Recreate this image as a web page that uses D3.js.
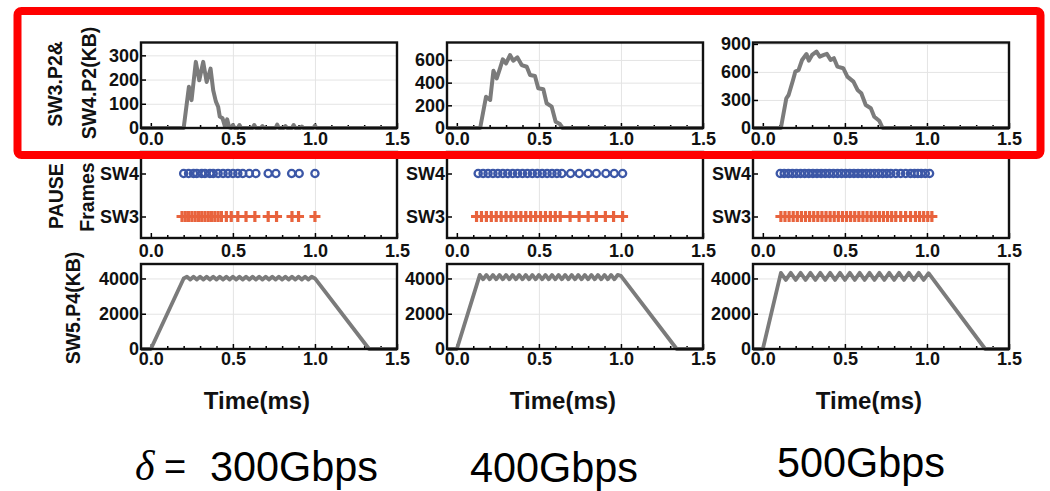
<!DOCTYPE html>
<html><head><meta charset="utf-8">
<script src="https://cdn.jsdelivr.net/npm/d3@7"></script>
<style>html,body{margin:0;padding:0;background:#fff;}svg{display:block;}</style>
</head><body>
<svg id="c" width="1050" height="491"></svg>
<script>
// ---------------- data ----------------
const rates = ["300Gbps", "400Gbps", "500Gbps"];
const xTickValues = [0.0, 0.5, 1.0, 1.5];
const xMinorTicks = [0.1, 0.2, 0.3, 0.4, 0.6, 0.7, 0.8, 0.9, 1.1, 1.2, 1.3, 1.4];
const queueTicks300 = [0, 100, 200, 300];
const queueTicks400 = [0, 200, 400, 600];
const queueTicks500 = [0, 300, 600, 900];
const queueMax = [353, 754, 915];
const pauseLabels = ["SW4", "SW3"];
const sw5Ticks = [0, 2000, 4000];
const sw5Max = 4820;

// SW3.P2 & SW4.P2 queue (KB)
const q300Time = [-0.06, 0.20, 0.232, 0.248, 0.274, 0.295, 0.319, 0.34, 0.364, 0.38, 0.396, 0.41, 0.42, 0.437, 0.451, 0.465, 0.477, 0.49, 0.50, 0.51, 0.53, 0.54, 0.55, 0.62, 0.63, 0.64, 0.67, 0.68, 0.69, 0.76, 0.77, 0.78, 0.81, 0.82, 0.83, 0.86, 0.87, 0.88, 0.91, 0.92, 0.93, 0.99, 1.0, 1.01, 1.5];
const q300Value = [0, 0, 170, 115, 273, 197, 273, 190, 245, 156, 110, 88, 47, 40, 8, 36, 3, 0, 12, 0, 0, 12, 0, 0, 12, 0, 0, 8, 0, 0, 14, 0, 0, 8, 0, 0, 12, 0, 0, 6, 0, 0, 10, 0, 0];
const q400Time = [-0.06, 0.142, 0.178, 0.203, 0.223, 0.243, 0.263, 0.28, 0.30, 0.324, 0.344, 0.369, 0.395, 0.426, 0.446, 0.476, 0.496, 0.527, 0.547, 0.578, 0.602, 0.628, 0.645, 1.5];
const q400Value = [0, 0, 276, 247, 505, 438, 526, 605, 570, 643, 593, 623, 555, 540, 467, 458, 350, 341, 218, 188, 56, 35, 0, 0];
const q500Time = [-0.06, 0.11, 0.143, 0.157, 0.184, 0.198, 0.218, 0.239, 0.266, 0.28, 0.30, 0.327, 0.347, 0.372, 0.39, 0.413, 0.433, 0.454, 0.49, 0.515, 0.552, 0.577, 0.60, 0.627, 0.658, 0.679, 0.709, 0.73, 1.5];
const q500Value = [0, 0, 318, 353, 514, 603, 621, 728, 792, 720, 782, 818, 764, 782, 793, 729, 747, 657, 640, 550, 496, 407, 372, 246, 211, 121, 78, 0, 0];

// PAUSE frame times (ms)
const sw4Pause300 = [0.20, 0.23, 0.26, 0.28, 0.31, 0.33, 0.36, 0.38, 0.41, 0.44, 0.47, 0.50, 0.53, 0.56, 0.60, 0.64, 0.715, 0.762, 0.858, 0.904, 1.0];
const sw3Pause300 = [0.19, 0.21, 0.23, 0.25, 0.27, 0.29, 0.31, 0.33, 0.35, 0.37, 0.39, 0.41, 0.43, 0.46, 0.49, 0.53, 0.58, 0.634, 0.715, 0.766, 0.86, 0.90, 1.0];
const sw4Pause400 = [0.13, 0.16, 0.19, 0.22, 0.25, 0.28, 0.31, 0.34, 0.37, 0.40, 0.43, 0.46, 0.49, 0.52, 0.55, 0.58, 0.61, 0.64, 0.693, 0.746, 0.80, 0.85, 0.908, 0.959, 1.01];
const sw3Pause400 = [0.12, 0.15, 0.18, 0.21, 0.24, 0.27, 0.30, 0.33, 0.36, 0.39, 0.42, 0.45, 0.48, 0.51, 0.54, 0.57, 0.60, 0.63, 0.69, 0.745, 0.80, 0.85, 0.905, 0.955, 1.01];
const sw4Pause500 = [0.106, 0.13, 0.155, 0.18, 0.205, 0.23, 0.255, 0.28, 0.305, 0.33, 0.355, 0.38, 0.405, 0.43, 0.455, 0.48, 0.505, 0.53, 0.555, 0.58, 0.605, 0.63, 0.655, 0.68, 0.705, 0.73, 0.755, 0.78, 0.81, 0.84, 0.87, 0.90, 0.924, 0.945, 0.965, 0.99, 1.016];
const sw3Pause500 = [0.11, 0.135, 0.16, 0.185, 0.21, 0.235, 0.26, 0.285, 0.31, 0.335, 0.36, 0.385, 0.41, 0.435, 0.46, 0.485, 0.51, 0.535, 0.56, 0.585, 0.61, 0.635, 0.66, 0.685, 0.71, 0.735, 0.76, 0.785, 0.81, 0.84, 0.87, 0.90, 0.93, 0.955, 0.98, 1.005, 1.03];

// SW5.P4 queue (KB)
const s300Time = [-0.06, 0.0, 0.20, 0.22, 0.24, 0.26, 0.28, 0.30, 0.32, 0.34, 0.36, 0.38, 0.40, 0.42, 0.44, 0.46, 0.48, 0.50, 0.52, 0.54, 0.56, 0.58, 0.60, 0.62, 0.64, 0.66, 0.68, 0.70, 0.72, 0.74, 0.76, 0.78, 0.80, 0.82, 0.84, 0.86, 0.88, 0.90, 0.92, 0.94, 0.96, 0.98, 1.00, 1.33, 1.5];
const s300Value = [0, 0, 4000, 4100, 3940, 4100, 3940, 4100, 3940, 4100, 3940, 4100, 3940, 4100, 3940, 4100, 3940, 4100, 3940, 4100, 3940, 4100, 3940, 4100, 3940, 4100, 3940, 4100, 3940, 4100, 3940, 4100, 3940, 4100, 3940, 4100, 3940, 4100, 3940, 4100, 3940, 4100, 4000, 0, 0];
const s400Time = [-0.06, 0.0, 0.14, 0.16, 0.18, 0.20, 0.22, 0.24, 0.26, 0.28, 0.30, 0.32, 0.34, 0.36, 0.38, 0.40, 0.42, 0.44, 0.46, 0.48, 0.50, 0.52, 0.54, 0.56, 0.58, 0.60, 0.62, 0.64, 0.66, 0.68, 0.70, 0.72, 0.74, 0.76, 0.78, 0.80, 0.82, 0.84, 0.86, 0.88, 0.90, 0.92, 0.94, 0.96, 0.98, 1.00, 1.34, 1.5];
const s400Value = [0, 0, 4200, 3950, 4200, 3950, 4200, 3950, 4200, 3950, 4200, 3950, 4200, 3950, 4200, 3950, 4200, 3950, 4200, 3950, 4200, 3950, 4200, 3950, 4200, 3950, 4200, 3950, 4200, 3950, 4200, 3950, 4200, 3950, 4200, 3950, 4200, 3950, 4200, 3950, 4200, 3950, 4200, 3950, 4200, 4150, 0, 0];
const s500Time = [-0.06, 0.0, 0.11, 0.14, 0.17, 0.20, 0.23, 0.26, 0.29, 0.32, 0.35, 0.38, 0.41, 0.44, 0.47, 0.50, 0.53, 0.56, 0.59, 0.62, 0.65, 0.68, 0.71, 0.74, 0.77, 0.80, 0.83, 0.86, 0.89, 0.92, 0.95, 0.98, 1.01, 1.355, 1.5];
const s500Value = [0, 0, 4320, 3920, 4320, 3920, 4320, 3920, 4320, 3920, 4320, 3920, 4320, 3920, 4320, 3920, 4320, 3920, 4320, 3920, 4320, 3920, 4320, 3920, 4320, 3920, 4320, 3920, 4320, 3920, 4320, 3920, 4300, 0, 0];

// ---------------- layout ----------------
const svg = d3.select("#c");
const panelLeft = [141, 447, 753];
const panelW = 256;
const rowTop = {q: [42.5, 128], p: [152, 238], s: [264, 349]};
const tickFont = "'Liberation Sans', Arial, sans-serif";
const lineColor = "#7b7b7b";
const tickSize = 18;

const queueSets = [
  {t: q300Time, v: q300Value, ticks: queueTicks300},
  {t: q400Time, v: q400Value, ticks: queueTicks400},
  {t: q500Time, v: q500Value, ticks: queueTicks500}
];
const pauseSets = [
  {sw4: sw4Pause300, sw3: sw3Pause300},
  {sw4: sw4Pause400, sw3: sw3Pause400},
  {sw4: sw4Pause500, sw3: sw3Pause500}
];
const sw5Sets = [
  {t: s300Time, v: s300Value},
  {t: s400Time, v: s400Value},
  {t: s500Time, v: s500Value}
];

function styleAxis(g, size) {
  g.select(".domain").remove();
  g.selectAll(".tick line").attr("stroke", "#000").attr("stroke-width", 1.5);
  g.selectAll(".tick text").attr("fill", "#111").attr("font-family", tickFont)
    .attr("font-weight", "bold").attr("font-size", size);
}

function panel(i, row, yScale, yGrid, xPad) {
  const left = panelLeft[i];
  const [top, bottom] = rowTop[row];
  const x = d3.scaleLinear().domain([-0.06, 1.5]).range([left, left + panelW]);
  const g = svg.append("g");
  g.append("g").attr("transform", `translate(0,${bottom})`)
    .call(d3.axisBottom(x).tickValues([0.5, 1.0]).tickSize(-(bottom - top)).tickFormat(""))
    .call(a => { a.select(".domain").remove(); a.selectAll("line").attr("stroke", "#e4e4e4").attr("stroke-width", 1); });
  if (yScale) {
    g.append("g").attr("transform", `translate(${left},0)`)
      .call(d3.axisLeft(yScale).tickValues(yGrid).tickSize(-panelW).tickFormat(""))
      .call(a => { a.select(".domain").remove(); a.selectAll("line").attr("stroke", "#e4e4e4").attr("stroke-width", 1); });
  }
  const gx = g.append("g").attr("transform", `translate(0,${bottom})`)
    .call(d3.axisBottom(x).tickValues(xTickValues).tickFormat(d3.format(".1f")).tickSize(-5).tickPadding(xPad));
  styleAxis(gx, tickSize);
  const gm = g.append("g").attr("transform", `translate(0,${bottom})`)
    .call(d3.axisBottom(x).tickValues(xMinorTicks).tickFormat("").tickSize(-3));
  gm.select(".domain").remove();
  gm.selectAll("line").attr("stroke", "#000").attr("stroke-width", 1.5);
  return {x, g, left, top, bottom};
}

function frame(p) {
  p.g.append("rect").attr("x", p.left).attr("y", p.top).attr("width", panelW).attr("height", p.bottom - p.top)
    .attr("fill", "none").attr("stroke", "#111").attr("stroke-width", 2.4);
}

for (let i = 0; i < 3; i++) {
  // ---- top row: SW3.P2 & SW4.P2 ----
  const qs = queueSets[i];
  const yq = d3.scaleLinear().domain([0, queueMax[i]]).range([rowTop.q[1], rowTop.q[0]]);
  const pq = panel(i, "q", yq, qs.ticks.slice(1), 4);
  const gy = pq.g.append("g").attr("transform", `translate(${pq.left},0)`)
    .call(d3.axisLeft(yq).tickValues(qs.ticks).tickFormat(d3.format("d")).tickSize(-5).tickPadding(2));
  styleAxis(gy, tickSize);
  const qData = qs.t.map((t, k) => [t, qs.v[k]]);
  pq.g.append("path").datum(qData)
    .attr("d", d3.line().x(d => pq.x(d[0])).y(d => yq(d[1])))
    .attr("fill", "none").attr("stroke", lineColor).attr("stroke-width", 4).attr("stroke-linejoin", "round");
  frame(pq);

  // ---- middle row: PAUSE frames ----
  const yp = d3.scalePoint().domain(pauseLabels).range([rowTop.p[0], rowTop.p[1]]).padding(0.5);
  const pp = panel(i, "p", null, null, 6);
  const gyp = pp.g.append("g").attr("transform", `translate(${pp.left},0)`)
    .call(d3.axisLeft(yp).tickSize(-5).tickPadding(2));
  styleAxis(gyp, tickSize);
  const ps = pauseSets[i];
  pp.g.append("g").selectAll("path").data(ps.sw3).join("path")
    .attr("transform", d => `translate(${pp.x(d)},${yp("SW3")})`)
    .attr("d", "M-5.5,0H5.5M0,-5.5V5.5")
    .attr("stroke", "#e8633d").attr("stroke-width", 3.2).attr("fill", "none");
  pp.g.append("g").selectAll("circle").data(ps.sw4).join("circle")
    .attr("cx", d => pp.x(d)).attr("cy", yp("SW4")).attr("r", 3.6)
    .attr("fill", "none").attr("stroke", "#3c57a7").attr("stroke-width", 2.3);
  frame(pp);

  // ---- bottom row: SW5.P4 ----
  const ys = d3.scaleLinear().domain([0, sw5Max]).range([rowTop.s[1], rowTop.s[0]]);
  const pss = panel(i, "s", ys, [2000, 4000], 3);
  const gys = pss.g.append("g").attr("transform", `translate(${pss.left},0)`)
    .call(d3.axisLeft(ys).tickValues(sw5Ticks).tickFormat(d3.format("d")).tickSize(-5).tickPadding(2));
  styleAxis(gys, tickSize);
  const ss = sw5Sets[i];
  const sData = ss.t.map((t, k) => [t, ss.v[k]]);
  pss.g.append("path").datum(sData)
    .attr("d", d3.line().x(d => pss.x(d[0])).y(d => ys(d[1])))
    .attr("fill", "none").attr("stroke", lineColor).attr("stroke-width", 3.8).attr("stroke-linejoin", "round");
  frame(pss);

  svg.append("text").attr("x", panelLeft[i] + panelW / 2 - 12).attr("y", 400)
    .attr("text-anchor", "middle").attr("dominant-baseline", "central")
    .attr("font-family", tickFont).attr("font-weight", "bold").attr("font-size", 24).attr("fill", "#111")
    .text("Time(ms)");
}

function yTitle(txt, x, y) {
  svg.append("text").attr("transform", `translate(${x},${y}) rotate(-90)`)
    .attr("text-anchor", "middle").attr("dominant-baseline", "central")
    .attr("font-family", tickFont).attr("font-weight", "bold").attr("font-size", 19.5).attr("fill", "#111")
    .text(txt);
}
yTitle("SW3.P2&", 55, 84);
yTitle("SW4.P2(KB)", 89, 83);
yTitle("PAUSE", 56, 196);
yTitle("Frames", 87, 197);
yTitle("SW5.P4(KB)", 73, 308);

// captions
const capFont = "'Liberation Sans', Arial, sans-serif";
svg.append("text").attr("x", 135).attr("y", 480).attr("font-family", "'Liberation Serif', serif")
  .attr("font-style", "italic").attr("font-size", 42).attr("fill", "#000").text("δ");
svg.append("text").attr("x", 164).attr("y", 480).attr("font-family", capFont)
  .attr("font-size", 38).attr("fill", "#000").text("=");
const capX = [210, 470, 777];
const capY = [481, 482, 477];
rates.forEach((r, i) => {
  svg.append("text").attr("x", capX[i]).attr("y", capY[i]).attr("font-family", capFont)
    .attr("font-size", 42).attr("fill", "#000")
    .attr("textLength", 168).attr("lengthAdjust", "spacingAndGlyphs").text(r);
});

// red highlight box
svg.append("rect").attr("x", 17.5).attr("y", 11).attr("width", 1023).attr("height", 144).attr("rx", 4)
  .attr("fill", "none").attr("stroke", "#ff0000").attr("stroke-width", 8);
</script>
</body></html>
